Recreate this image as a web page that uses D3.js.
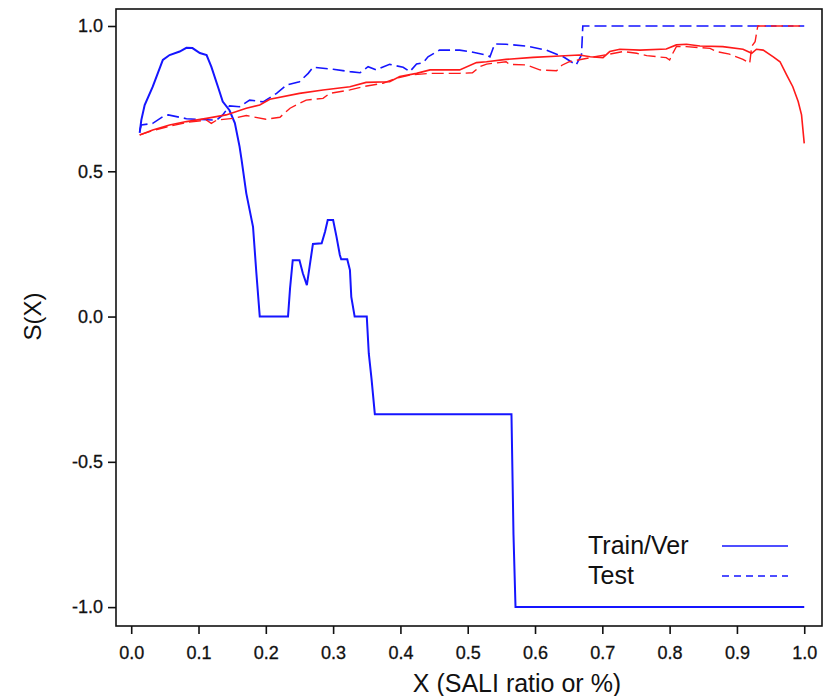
<!DOCTYPE html>
<html>
<head>
<meta charset="utf-8">
<script src="https://cdn.jsdelivr.net/npm/d3@7"></script>
<style>
  html, body { margin: 0; padding: 0; background: #fff; }
  svg { display: block; }
  text { font-family: "Liberation Sans", Arial, sans-serif; fill: #111; }
</style>
</head>
<body>
<svg id="chart" width="831" height="696"></svg>
<script>
// ---- data ----
const xTicks = [0.0, 0.1, 0.2, 0.3, 0.4, 0.5, 0.6, 0.7, 0.8, 0.9, 1.0];
const yTicks = [-1.0, -0.5, 0.0, 0.5, 1.0];
const legendLabels = ["Train/Ver", "Test"];

const blueSolidX = [0.0126,0.015,0.02,0.032,0.047,0.057,0.072,0.082,0.091,0.102,0.112,0.119,0.129,0.136,0.146,0.154,0.161,0.164,0.171,0.181,0.186,0.191,0.233,0.236,0.240,0.250,0.255,0.261,0.265,0.270,0.283,0.288,0.292,0.300,0.305,0.310,0.312,0.321,0.325,0.327,0.332,0.350,0.353,0.357,0.362,0.565,0.568,0.571,1.0];
const blueSolidY = [0.632,0.676,0.728,0.791,0.883,0.900,0.912,0.925,0.924,0.907,0.900,0.860,0.790,0.740,0.710,0.666,0.585,0.539,0.424,0.309,0.149,0.0,0.0,0.097,0.194,0.194,0.149,0.108,0.171,0.250,0.252,0.292,0.332,0.332,0.275,0.212,0.197,0.197,0.160,0.068,0.0,0.0,-0.127,-0.213,-0.336,-0.336,-0.75,-1.0,-1.0];

const blueDashX = [0.0126,0.015,0.032,0.047,0.055,0.082,0.097,0.127,0.136,0.146,0.161,0.176,0.196,0.216,0.231,0.250,0.263,0.270,0.300,0.325,0.340,0.352,0.364,0.384,0.404,0.414,0.424,0.434,0.441,0.458,0.488,0.503,0.528,0.533,0.540,0.557,0.587,0.617,0.642,0.657,0.661,0.669,0.671,1.0];
const blueDashY = [0.640,0.659,0.665,0.688,0.694,0.681,0.679,0.676,0.694,0.725,0.722,0.745,0.739,0.768,0.797,0.808,0.837,0.858,0.851,0.843,0.839,0.860,0.849,0.868,0.858,0.843,0.869,0.874,0.894,0.917,0.917,0.912,0.900,0.894,0.938,0.937,0.931,0.917,0.894,0.872,0.866,0.900,1.0,1.0];

const redSolidX = [0.0126,0.032,0.057,0.082,0.112,0.141,0.171,0.191,0.206,0.250,0.285,0.325,0.349,0.384,0.399,0.424,0.444,0.488,0.513,0.528,0.557,0.597,0.637,0.666,0.682,0.701,0.711,0.726,0.756,0.795,0.810,0.825,0.845,0.879,0.909,0.922,0.929,0.939,0.954,0.964,0.974,0.983,0.991,0.996,1.0];
const redSolidY = [0.625,0.642,0.659,0.671,0.682,0.694,0.717,0.728,0.748,0.768,0.780,0.791,0.806,0.808,0.826,0.837,0.849,0.849,0.874,0.877,0.885,0.892,0.897,0.900,0.894,0.891,0.912,0.920,0.917,0.921,0.935,0.937,0.931,0.929,0.920,0.906,0.920,0.917,0.894,0.877,0.831,0.791,0.740,0.694,0.596];

const redDashX = [0.0126,0.032,0.057,0.082,0.112,0.119,0.127,0.151,0.171,0.200,0.221,0.236,0.260,0.285,0.295,0.325,0.344,0.374,0.394,0.414,0.444,0.488,0.507,0.518,0.528,0.557,0.562,0.587,0.607,0.632,0.640,0.651,0.682,0.731,0.751,0.766,0.795,0.800,0.804,0.810,0.825,0.860,0.870,0.889,0.909,0.919,0.922,0.927,0.931,1.0];
const redDashY = [0.625,0.640,0.655,0.668,0.676,0.665,0.676,0.682,0.692,0.679,0.686,0.717,0.745,0.751,0.768,0.780,0.791,0.803,0.820,0.831,0.837,0.837,0.839,0.860,0.869,0.877,0.868,0.866,0.849,0.846,0.865,0.877,0.891,0.912,0.906,0.898,0.891,0.883,0.903,0.929,0.929,0.923,0.912,0.903,0.885,0.872,0.930,0.946,1.0,1.0];

// ---- layout ----
const svg = d3.select("#chart");
const box = { left: 116, top: 9, right: 822, bottom: 626 };

const x = d3.scaleLinear().domain([-0.0226, 1.0264]).range([box.left, box.right]);
const y = d3.scaleLinear().domain([-1.065, 1.0585]).range([box.bottom, box.top]);

const BLUE = "#1515ff", RED = "#ff1a1a";

function series(xs, ys) { return xs.map((v, i) => [v, ys[i]]); }
const line = d3.line().x(d => x(d[0])).y(d => y(d[1]));

const plot = svg.append("g");
const lines = [
  { data: series(blueSolidX, blueSolidY), color: BLUE, dash: null, w: 2 },
  { data: series(blueDashX, blueDashY), color: BLUE, dash: "12,5", w: 1.6 },
  { data: series(redSolidX, redSolidY), color: RED, dash: null, w: 1.6 },
  { data: series(redDashX, redDashY), color: RED, dash: "12,5", w: 1.4 }
];
lines.forEach(s => {
  plot.append("path")
    .attr("d", line(s.data))
    .attr("fill", "none")
    .attr("stroke", s.color)
    .attr("stroke-width", s.w)
    .attr("stroke-dasharray", s.dash)
    .attr("stroke-linejoin", "miter");
});

// frame
svg.append("rect")
  .attr("x", box.left).attr("y", box.top)
  .attr("width", box.right - box.left).attr("height", box.bottom - box.top)
  .attr("fill", "none").attr("stroke", "#111").attr("stroke-width", 1.6);

// axes
const fmt = d => d.toFixed(1);
const xAxis = svg.append("g")
  .attr("transform", `translate(0,${box.bottom})`)
  .call(d3.axisBottom(x).tickValues(xTicks).tickFormat(fmt).tickSize(8).tickPadding(12));
const yAxis = svg.append("g")
  .attr("transform", `translate(${box.left},0)`)
  .call(d3.axisLeft(y).tickValues(yTicks).tickFormat(fmt).tickSize(8).tickPadding(5));
[xAxis, yAxis].forEach(a => {
  a.select(".domain").remove();
  a.selectAll(".tick line").attr("stroke", "#111").attr("stroke-width", 1.6);
  a.selectAll(".tick text").style("font-size", "18px").attr("fill", "#111")
    .attr("stroke", "#111").attr("stroke-width", 0.3)
    .style("font-family", "'Liberation Sans', Arial, sans-serif");
});

// axis titles
svg.append("text")
  .attr("x", 517).attr("y", 692)
  .attr("text-anchor", "middle")
  .style("font-size", "25px")
  .text("X (SALI ratio or %)");
svg.append("text")
  .attr("transform", `translate(41,${y(0)}) rotate(-90)`)
  .attr("text-anchor", "middle")
  .style("font-size", "24px")
  .text("S(X)");

// legend
const legend = svg.append("g");
legendLabels.forEach((lab, i) => {
  const ly = 546 + i * 30;
  legend.append("text")
    .attr("x", 588).attr("y", ly + 8)
    .style("font-size", "25px")
    .text(lab);
  legend.append("line")
    .attr("x1", 722).attr("x2", 788)
    .attr("y1", ly).attr("y2", ly)
    .attr("stroke", BLUE)
    .attr("stroke-width", 1.6)
    .attr("stroke-dasharray", i === 1 ? "7,5" : null);
});
</script>
</body>
</html>
